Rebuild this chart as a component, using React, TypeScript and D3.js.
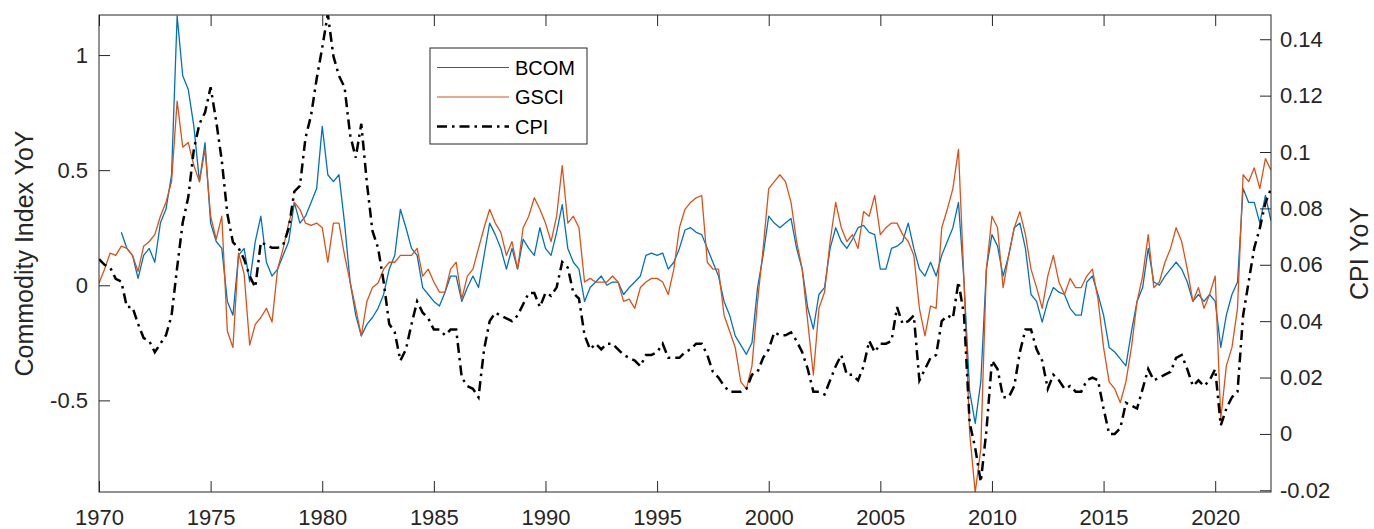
import React, { useEffect, useRef } from 'react';
import * as d3 from 'd3';

const W = 1374;
const H = 529;

// axis ticks
const xTicks = [1970, 1975, 1980, 1985, 1990, 1995, 2000, 2005, 2010, 2015, 2020];
const leftTicks = [-0.5, 0, 0.5, 1];
const rightTicks = [-0.02, 0, 0.02, 0.04, 0.06, 0.08, 0.1, 0.12, 0.14];

// quarterly samples
const step = 0.25;
const bcomStart = 1971;
const bcomValues = [
  0.23, 0.16, 0.13, 0.03, 0.13, 0.16, 0.10, 0.27, 0.33, 0.48, 1.17, 0.91, 0.85, 0.69, 0.45, 0.62,
  0.27, 0.19, 0.16, -0.07, -0.13, 0.13, 0.16, 0.015, 0.19, 0.30, 0.10, 0.04, 0.07, 0.13, 0.19, 0.36,
  0.27, 0.30, 0.36, 0.42, 0.69, 0.48, 0.45, 0.48, 0.27, 0.014, -0.13, -0.22, -0.17, -0.14, -0.10, -0.04,
  0.07, 0.13, 0.33, 0.25, 0.16, 0.13, -0.01, -0.04, -0.07, -0.09, -0.03, 0.04, 0.04, -0.07, -0.01, 0.04,
  -0.01, 0.13, 0.27, 0.22, 0.16, 0.07, 0.16, 0.07, 0.20, 0.16, 0.13, 0.25, 0.16, 0.13, 0.23, 0.35,
  0.16, 0.10, 0.07, -0.07, -0.01, 0.014, 0.04, 0.0, 0.014, 0.014, -0.04, -0.01, 0.014, 0.04, 0.13, 0.14,
  0.13, 0.14, 0.07, 0.10, 0.16, 0.24, 0.25, 0.23, 0.22, 0.16, 0.10, 0.04, -0.07, -0.13, -0.22, -0.26,
  -0.30, -0.25, -0.01, 0.13, 0.30, 0.27, 0.25, 0.27, 0.29, 0.16, 0.07, -0.10, -0.19, -0.04, -0.01, 0.16,
  0.25, 0.19, 0.16, 0.20, 0.25, 0.26, 0.23, 0.22, 0.07, 0.07, 0.16, 0.17, 0.19, 0.27, 0.16, 0.07,
  0.04, 0.10, 0.04, 0.13, 0.19, 0.25, 0.36, 0.014, -0.46, -0.60, -0.42, 0.07, 0.22, 0.17, 0.04, 0.13,
  0.25, 0.27, 0.16, -0.04, -0.07, -0.16, -0.07, -0.01, -0.03, -0.04, -0.10, -0.13, -0.13, 0.014, 0.04, -0.04,
  -0.13, -0.27, -0.29, -0.32, -0.35, -0.20, -0.07, -0.01, 0.16, 0.014, 0.0, 0.04, 0.07, 0.10, 0.07, 0.014,
  -0.07, -0.04, -0.07, -0.04, -0.07, -0.27, -0.13, -0.04, 0.014, 0.42, 0.36, 0.36, 0.27, 0.39, 0.28,
];

const gsciStart = 1970;
const gsciValues = [
  0.01, 0.07, 0.14, 0.13, 0.17, 0.16, 0.13, 0.06, 0.17, 0.19, 0.22, 0.30, 0.36, 0.45, 0.80, 0.60,
  0.62, 0.52, 0.45, 0.59, 0.30, 0.20, 0.30, -0.20, -0.27, 0.14, 0.05, -0.26, -0.17, -0.14, -0.10, -0.16,
  0.07, 0.16, 0.27, 0.36, 0.33, 0.27, 0.26, 0.27, 0.25, 0.10, 0.27, 0.27, 0.13, 0.014, -0.10, -0.22,
  -0.07, -0.01, 0.01, 0.07, 0.10, 0.10, 0.13, 0.13, 0.13, 0.16, 0.04, 0.07, 0.014, -0.03, -0.03, 0.07,
  0.10, -0.06, 0.04, 0.07, 0.16, 0.25, 0.33, 0.27, 0.23, 0.13, 0.19, 0.07, 0.25, 0.30, 0.38, 0.33,
  0.27, 0.19, 0.30, 0.52, 0.27, 0.30, 0.25, 0.014, 0.03, 0.014, 0.014, 0.014, 0.04, 0.014, -0.07, -0.06,
  -0.10, -0.01, 0.014, 0.03, 0.03, 0.014, -0.04, 0.07, 0.25, 0.33, 0.36, 0.38, 0.39, 0.10, 0.07, 0.07,
  -0.13, -0.20, -0.27, -0.42, -0.45, -0.35, -0.07, 0.16, 0.42, 0.45, 0.48, 0.45, 0.36, 0.19, 0.07, -0.16,
  -0.39, -0.10, -0.03, 0.19, 0.36, 0.25, 0.19, 0.22, 0.16, 0.32, 0.30, 0.39, 0.22, 0.25, 0.27, 0.27,
  0.22, 0.19, 0.13, -0.10, -0.22, -0.09, -0.10, 0.25, 0.33, 0.42, 0.59, 0.014, -0.64, -0.90, -0.71, 0.07,
  0.30, 0.25, -0.01, 0.13, 0.25, 0.32, 0.22, 0.07, -0.01, -0.10, 0.04, 0.13, 0.014, -0.04, 0.03, -0.01,
  -0.01, 0.04, 0.07, -0.06, -0.27, -0.42, -0.45, -0.51, -0.42, -0.27, -0.07, 0.04, 0.22, -0.01, 0.014, 0.10,
  0.16, 0.25, 0.19, 0.07, -0.07, -0.01, -0.10, -0.04, 0.04, -0.58, -0.35, -0.27, -0.10, 0.48, 0.45, 0.51,
  0.42, 0.55, 0.50,
];

const cpiStart = 1970;
const cpiValues = [
  0.062, 0.060, 0.059, 0.055, 0.054, 0.045, 0.045, 0.039, 0.034, 0.033, 0.029, 0.032, 0.035, 0.042, 0.059, 0.075,
  0.084, 0.101, 0.110, 0.114, 0.123, 0.111, 0.097, 0.078, 0.068, 0.066, 0.062, 0.056, 0.052, 0.068, 0.067, 0.066,
  0.066, 0.067, 0.073, 0.086, 0.088, 0.105, 0.113, 0.126, 0.137, 0.149, 0.134, 0.127, 0.123, 0.106, 0.098, 0.110,
  0.089, 0.072, 0.066, 0.054, 0.039, 0.036, 0.026, 0.030, 0.039, 0.047, 0.043, 0.041, 0.037, 0.037, 0.035, 0.037,
  0.037, 0.020, 0.017, 0.016, 0.013, 0.030, 0.040, 0.043, 0.042, 0.041, 0.040, 0.042, 0.046, 0.050, 0.050, 0.045,
  0.050, 0.049, 0.052, 0.061, 0.059, 0.050, 0.048, 0.035, 0.030, 0.032, 0.030, 0.032, 0.032, 0.030, 0.028, 0.027,
  0.026, 0.024, 0.028, 0.028, 0.029, 0.032, 0.027, 0.027, 0.027, 0.029, 0.030, 0.032, 0.032, 0.028, 0.022, 0.020,
  0.017, 0.015, 0.015, 0.015, 0.016, 0.021, 0.022, 0.027, 0.030, 0.036, 0.035, 0.035, 0.036, 0.033, 0.029, 0.023,
  0.015, 0.015, 0.014, 0.019, 0.024, 0.028, 0.021, 0.021, 0.019, 0.024, 0.033, 0.029, 0.032, 0.032, 0.033, 0.045,
  0.039, 0.040, 0.042, 0.019, 0.023, 0.027, 0.028, 0.040, 0.042, 0.041, 0.054, 0.042, 0.004, -0.005, -0.017, 0.001,
  0.026, 0.023, 0.013, 0.013, 0.017, 0.029, 0.037, 0.037, 0.030, 0.026, 0.016, 0.021, 0.019, 0.016, 0.017, 0.015,
  0.015, 0.019, 0.020, 0.019, 0.009, 0.000, 0.000, 0.002, 0.011, 0.010, 0.009, 0.016, 0.023, 0.019, 0.020, 0.021,
  0.022, 0.027, 0.028, 0.023, 0.017, 0.019, 0.017, 0.019, 0.023, 0.003, 0.009, 0.013, 0.015, 0.042, 0.054, 0.066,
  0.073, 0.082, 0.087,
];

const BLUE = '#0072BD';
const ORANGE = '#D95319';
const AXIS = '#262626';
const FONT = '"Liberation Sans", Arial, Helvetica, sans-serif';

const toPoints = (start: number, values: number[]) =>
  values.map((v, i) => ({ t: start + i * step, v }));

const App = () => {
  const ref = useRef<SVGSVGElement>(null);

  useEffect(() => {
    const svg = d3.select(ref.current);
    svg.selectAll('*').remove();

    const left = 99, right = 1271, top = 15, bottom = 492;
    const x = d3.scaleLinear().domain([1970, 2022.5]).range([left, right]);
    const yL = d3.scaleLinear().domain([-0.898, 1.174]).range([bottom, top]);
    const yR = d3.scaleLinear().domain([-0.0206, 0.1486]).range([bottom, top]);

    svg.append('rect').attr('width', W).attr('height', H).attr('fill', '#fff');

    svg.append('clipPath').attr('id', 'plot-clip')
      .append('rect')
      .attr('x', left).attr('y', top)
      .attr('width', right - left).attr('height', bottom - top);

    const plot = svg.append('g').attr('clip-path', 'url(#plot-clip)');

    const lineL = d3.line<{ t: number; v: number }>().x((d) => x(d.t)).y((d) => yL(d.v));
    const lineR = d3.line<{ t: number; v: number }>().x((d) => x(d.t)).y((d) => yR(d.v));

    plot.append('path')
      .attr('d', lineL(toPoints(bcomStart, bcomValues)))
      .attr('fill', 'none').attr('stroke', BLUE).attr('stroke-width', 1.3)
      .attr('stroke-linejoin', 'round');
    plot.append('path')
      .attr('d', lineL(toPoints(gsciStart, gsciValues)))
      .attr('fill', 'none').attr('stroke', ORANGE).attr('stroke-width', 1.3)
      .attr('stroke-linejoin', 'round');
    plot.append('path')
      .attr('d', lineR(toPoints(cpiStart, cpiValues)))
      .attr('fill', 'none').attr('stroke', '#000').attr('stroke-width', 2.5)
      .attr('stroke-dasharray', '10,5,2.5,5');

    // axes: ticks point inward like MATLAB
    const styleAxis = (g: d3.Selection<SVGGElement, unknown, null, undefined>) => {
      g.select('.domain').remove();
      g.selectAll('line').attr('stroke', AXIS).attr('stroke-width', 1);
      g.selectAll('text').attr('fill', AXIS).style('font-family', FONT).style('font-size', '22px');
    };

    svg.append('g').attr('transform', `translate(0,${bottom})`)
      .call(d3.axisBottom(x).tickValues(xTicks).tickFormat(d3.format('d')).tickSizeInner(-11).tickSizeOuter(0).tickPadding(17))
      .call(styleAxis);
    svg.append('g').attr('transform', `translate(0,${top})`)
      .call(d3.axisTop(x).tickValues(xTicks).tickFormat(() => '').tickSizeInner(-11).tickSizeOuter(0))
      .call(styleAxis);
    svg.append('g').attr('transform', `translate(${left},0)`)
      .call(d3.axisLeft(yL).tickValues(leftTicks).tickFormat((d) => String(d)).tickSizeInner(-11).tickSizeOuter(0).tickPadding(11))
      .call(styleAxis);
    svg.append('g').attr('transform', `translate(${right},0)`)
      .call(d3.axisRight(yR).tickValues(rightTicks).tickFormat((d) => String(+(+d).toFixed(2))).tickSizeInner(-11).tickSizeOuter(0).tickPadding(9))
      .call(styleAxis);

    svg.append('rect')
      .attr('x', left).attr('y', top)
      .attr('width', right - left).attr('height', bottom - top)
      .attr('fill', 'none').attr('stroke', AXIS).attr('stroke-width', 1);

    // axis titles
    svg.append('text')
      .attr('transform', `translate(33,${(top + bottom) / 2}) rotate(-90)`)
      .attr('text-anchor', 'middle')
      .attr('fill', AXIS).style('font-family', FONT).style('font-size', '25px')
      .text('Commodity Index YoY');
    svg.append('text')
      .attr('transform', `translate(1368,${(top + bottom) / 2}) rotate(-90)`)
      .attr('text-anchor', 'middle')
      .attr('fill', AXIS).style('font-family', FONT).style('font-size', '25px')
      .text('CPI YoY');

    // legend
    const legend = svg.append('g');
    legend.append('rect')
      .attr('x', 430).attr('y', 48).attr('width', 157).attr('height', 96)
      .attr('fill', '#fff').attr('stroke', AXIS).attr('stroke-width', 1);
    const items = [
      { label: 'BCOM', color: BLUE, width: 1.1, dash: null },
      { label: 'GSCI', color: ORANGE, width: 1.1, dash: null },
      { label: 'CPI', color: '#000', width: 2.5, dash: '10,5,2.5,5' },
    ];
    items.forEach((it, i) => {
      const cy = 67.5 + i * 29.5;
      const ln = legend.append('line')
        .attr('x1', 437).attr('x2', 509).attr('y1', cy).attr('y2', cy)
        .attr('stroke', it.color).attr('stroke-width', it.width);
      if (it.dash) ln.attr('stroke-dasharray', it.dash);
      legend.append('text')
        .attr('x', 515).attr('y', cy).attr('dy', '0.36em')
        .attr('fill', '#000').style('font-family', FONT).style('font-size', '20px')
        .text(it.label);
    });
  }, []);

  return (
    <div style={{ position: 'absolute', left: 0, top: 0, width: W, height: H }}>
      <svg ref={ref} width={W} height={H} />
    </div>
  );
};

export default App;
